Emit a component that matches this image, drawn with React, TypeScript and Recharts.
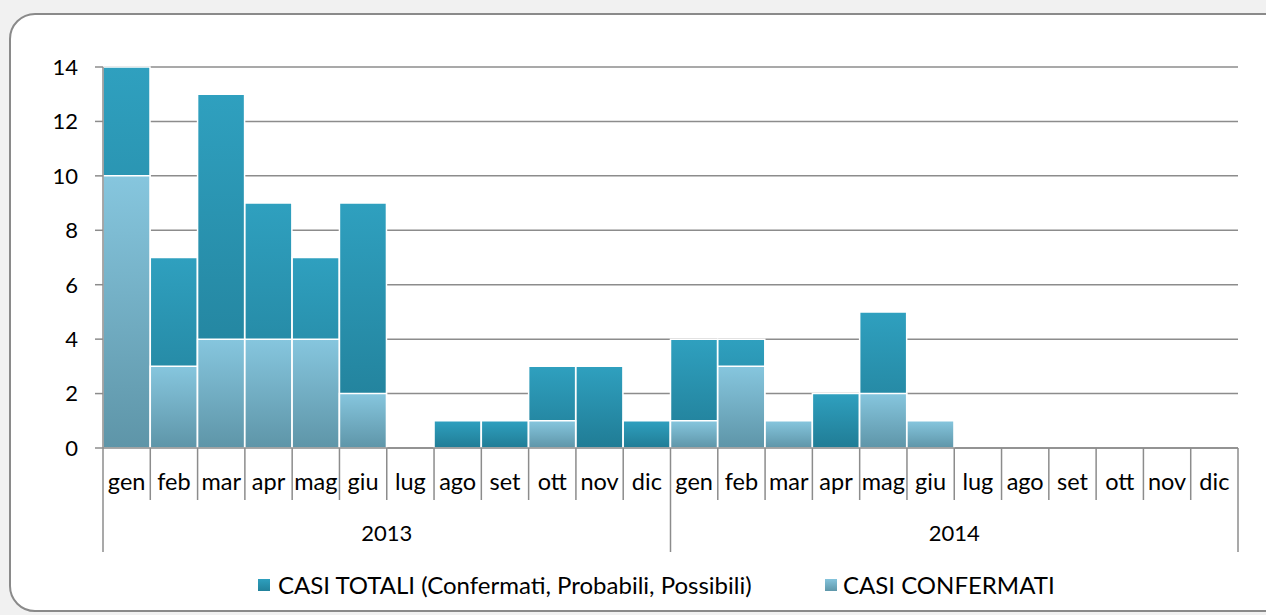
import React from 'react';
import { BarChart, Bar, XAxis, YAxis, CartesianGrid, Legend } from 'recharts';

const months = ['gen','feb','mar','apr','mag','giu','lug','ago','set','ott','nov','dic','gen','feb','mar','apr','mag','giu','lug','ago','set','ott','nov','dic'];
const years = ['2013','2014'];
const totalCases = [14,7,13,9,7,9,0,1,1,3,3,1,4,4,1,2,5,1,0,0,0,0,0,0];
const confirmedCases = [10,3,4,4,4,2,0,0,0,1,0,0,1,3,1,0,2,1,0,0,0,0,0,0];
const yTicks = [0,2,4,6,8,10,12,14];
const seriesNames = ['CASI TOTALI (Confermati, Probabili, Possibili)', 'CASI CONFERMATI'];

const data = months.map((m, i) => ({
  key: `${m}-${years[Math.floor(i / 12)]}`,
  month: m,
  year: years[Math.floor(i / 12)],
  total: totalCases[i],
  confirmed: confirmedCases[i],
}));

const FONT = 'Lato, "Liberation Sans", sans-serif';
const AXIS = '#8c8c8c';

const MonthTick = (props: any) => {
  const { x, y, index, payload } = props;
  const half = payload && payload.offset ? payload.offset : 1135 / 48;
  const left = x - half;
  const y0 = y - 8;
  const yearStart = index % 12 === 0;
  const last = index === months.length - 1;
  return (
    <g>
      <line x1={left} y1={y0} x2={left} y2={yearStart ? y0 + 104 : y0 + 52} stroke={AXIS} strokeWidth={1.5} />
      {last && <line x1={x + half} y1={y0} x2={x + half} y2={y0 + 104} stroke={AXIS} strokeWidth={1.5} />}
      <text x={x} y={y0 + 42} textAnchor="middle" fontFamily={FONT} fontSize={23.5} fill="#000">{data[index].month}</text>
      {yearStart && (
        <text x={left + half * 12} y={y0 + 93} textAnchor="middle" fontFamily={FONT} fontSize={22} fill="#000">{data[index].year}</text>
      )}
    </g>
  );
};

const LegendContent = () => (
  <div style={{ position: 'relative', height: 30, fontFamily: FONT, fontSize: 24, color: '#000', whiteSpace: 'nowrap' }}>
    <div style={{ position: 'absolute', left: 258, top: 0, display: 'flex', alignItems: 'center' }}>
      <span style={{ width: 12, height: 12, background: 'linear-gradient(#2e9fbe,#22819b)', marginRight: 8, display: 'inline-block' }} />
      {seriesNames[0]}
    </div>
    <div style={{ position: 'absolute', left: 825, top: 0, display: 'flex', alignItems: 'center' }}>
      <span style={{ width: 12, height: 12, background: 'linear-gradient(#85c4dc,#5e97aa)', marginRight: 6, display: 'inline-block' }} />
      {seriesNames[1]}
    </div>
  </div>
);

export default function App() {
  return (
    <div style={{ position: 'absolute', left: 0, top: 0, width: 1266, height: 615, background: '#f1f1f1', overflow: 'hidden' }}>
      <div style={{ position: 'absolute', left: 9, top: 13, width: 1300, height: 595, border: '2px solid #8a8a8a', borderRadius: 26, background: '#fff' }} />
      <div style={{ position: 'absolute', left: 0, top: 0 }}>
        <BarChart width={1266} height={615} data={data} margin={{ top: 67, right: 28, left: 43, bottom: 67 }} barCategoryGap={0} barGap={0}>
          <defs>
            <linearGradient id="gTotal" x1="0" y1="0" x2="0" y2="1">
              <stop offset="0%" stopColor="#2fa0bf" />
              <stop offset="100%" stopColor="#207c95" />
            </linearGradient>
            <linearGradient id="gConf" x1="0" y1="0" x2="0" y2="1">
              <stop offset="0%" stopColor="#86c6de" />
              <stop offset="100%" stopColor="#5e95a8" />
            </linearGradient>
          </defs>
          <CartesianGrid vertical={false} stroke={AXIS} strokeWidth={1.5} />
          <XAxis xAxisId="a" dataKey="key" height={100} axisLine={{ stroke: AXIS, strokeWidth: 1.5 }} tickLine={false} tick={<MonthTick />} interval={0} />
          <XAxis xAxisId="b" dataKey="key" hide />
          <YAxis domain={[0, 14]} ticks={yTicks} width={60} axisLine={{ stroke: AXIS, strokeWidth: 1.5 }} tickLine={{ stroke: AXIS, strokeWidth: 1.5 }} tickSize={8} tick={{ fill: '#000', fontSize: 22, fontFamily: FONT }} tickMargin={17} interval={0} />
          <Legend verticalAlign="middle" layout="horizontal" content={<LegendContent />} wrapperStyle={{ position: 'absolute', top: 570, left: 0, width: 1266 }} />
          <Bar xAxisId="a" dataKey="total" name={seriesNames[0]} fill="url(#gTotal)" stroke="#fff" strokeWidth={1.5} isAnimationActive={false} />
          <Bar xAxisId="b" dataKey="confirmed" name={seriesNames[1]} fill="url(#gConf)" stroke="#fff" strokeWidth={1.5} isAnimationActive={false} />
        </BarChart>
      </div>
    </div>
  );
}
